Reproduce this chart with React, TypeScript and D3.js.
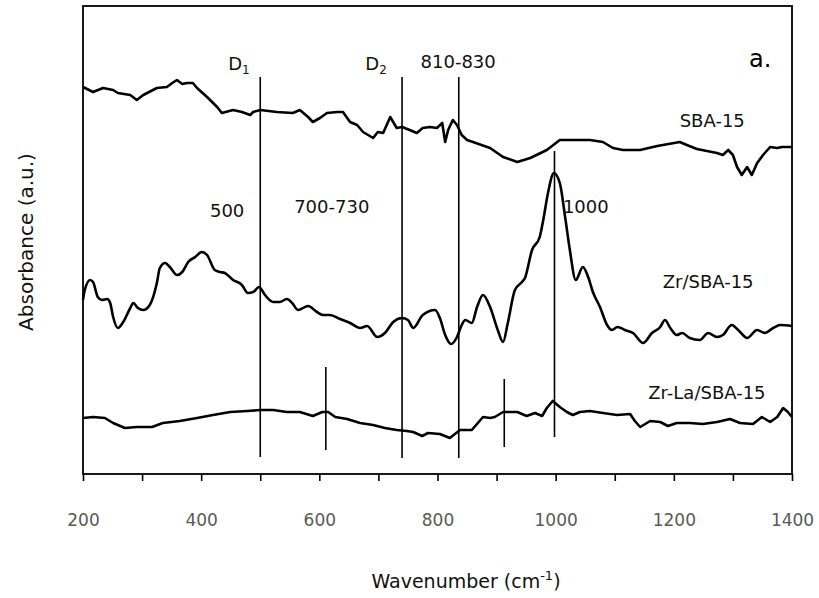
import React, { useRef, useEffect } from "react";
import * as d3 from "d3";

// wavenumber (cm-1), absorbance (a.u., offset stacked as in the figure)
const sbaWave = [200, 217, 234, 251, 259, 280, 291, 302, 325, 342, 351, 359, 368, 376, 386, 393, 410, 427, 435, 454, 469, 483, 488, 500, 528, 555, 567, 581, 589, 601, 613, 630, 640, 652, 664, 674, 691, 699, 708, 720, 731, 740, 753, 765, 775, 787, 799, 808, 813, 818, 826, 833, 841, 850, 860, 889, 911, 935, 957, 985, 1007, 1024, 1058, 1080, 1097, 1114, 1143, 1172, 1210, 1222, 1239, 1273, 1283, 1292, 1300, 1307, 1315, 1324, 1332, 1341, 1351, 1363, 1375, 1383, 1400];
const sbaAbs = [3.87, 3.82, 3.86, 3.84, 3.81, 3.79, 3.74, 3.79, 3.86, 3.87, 3.91, 3.94, 3.9, 3.91, 3.91, 3.86, 3.77, 3.67, 3.61, 3.64, 3.62, 3.59, 3.62, 3.64, 3.62, 3.61, 3.64, 3.57, 3.52, 3.56, 3.61, 3.62, 3.62, 3.52, 3.49, 3.42, 3.36, 3.42, 3.41, 3.57, 3.46, 3.47, 3.44, 3.41, 3.46, 3.47, 3.46, 3.51, 3.32, 3.44, 3.54, 3.49, 3.39, 3.34, 3.32, 3.26, 3.17, 3.12, 3.16, 3.24, 3.34, 3.34, 3.34, 3.32, 3.26, 3.24, 3.24, 3.28, 3.32, 3.29, 3.25, 3.21, 3.19, 3.24, 3.19, 3.07, 2.99, 3.07, 2.99, 3.11, 3.19, 3.27, 3.26, 3.27, 3.27];

const zrWave = [200, 203, 212, 217, 225, 232, 241, 246, 251, 259, 268, 280, 285, 293, 302, 313, 325, 330, 339, 347, 359, 368, 378, 390, 401, 410, 423, 432, 440, 454, 469, 479, 488, 498, 508, 522, 533, 545, 554, 564, 581, 596, 606, 618, 635, 652, 669, 681, 698, 711, 725, 740, 750, 759, 775, 796, 804, 813, 823, 833, 841, 847, 858, 867, 877, 889, 902, 911, 919, 931, 943, 948, 960, 973, 979, 987, 997, 1007, 1016, 1024, 1034, 1046, 1055, 1063, 1075, 1087, 1095, 1105, 1117, 1131, 1148, 1163, 1177, 1185, 1194, 1205, 1214, 1227, 1244, 1258, 1273, 1283, 1298, 1309, 1324, 1341, 1354, 1368, 1380, 1400];
const zrAbs = [1.74, 1.84, 1.94, 1.92, 1.77, 1.74, 1.75, 1.71, 1.57, 1.46, 1.52, 1.66, 1.71, 1.66, 1.64, 1.69, 1.91, 2.06, 2.11, 2.07, 1.99, 2.02, 2.12, 2.17, 2.22, 2.19, 2.04, 2.02, 2.01, 1.94, 1.89, 1.81, 1.82, 1.87, 1.79, 1.72, 1.72, 1.75, 1.71, 1.64, 1.68, 1.62, 1.59, 1.59, 1.55, 1.51, 1.46, 1.48, 1.37, 1.41, 1.52, 1.56, 1.54, 1.46, 1.59, 1.64, 1.56, 1.39, 1.3, 1.37, 1.49, 1.54, 1.51, 1.67, 1.79, 1.67, 1.44, 1.32, 1.51, 1.84, 1.92, 1.96, 2.24, 2.37, 2.54, 2.81, 3.01, 2.91, 2.57, 2.24, 1.94, 2.07, 1.97, 1.82, 1.67, 1.49, 1.44, 1.47, 1.44, 1.41, 1.31, 1.41, 1.47, 1.54, 1.46, 1.39, 1.41, 1.36, 1.34, 1.41, 1.37, 1.39, 1.49, 1.44, 1.36, 1.44, 1.41, 1.46, 1.49, 1.48];

const zrLaWave = [200, 217, 237, 251, 271, 291, 317, 335, 364, 393, 420, 449, 478, 500, 522, 545, 567, 589, 605, 615, 627, 647, 669, 691, 711, 731, 748, 759, 774, 784, 804, 821, 838, 858, 877, 889, 897, 911, 935, 951, 965, 977, 985, 995, 1007, 1019, 1029, 1041, 1058, 1080, 1104, 1126, 1134, 1143, 1160, 1177, 1190, 1205, 1227, 1249, 1273, 1295, 1312, 1334, 1349, 1363, 1375, 1385, 1393, 1400];
const zrLaAbs = [0.56, 0.57, 0.56, 0.51, 0.46, 0.47, 0.47, 0.51, 0.53, 0.56, 0.59, 0.62, 0.63, 0.64, 0.64, 0.62, 0.62, 0.58, 0.62, 0.62, 0.57, 0.55, 0.51, 0.49, 0.46, 0.44, 0.43, 0.42, 0.38, 0.41, 0.4, 0.36, 0.44, 0.44, 0.57, 0.56, 0.57, 0.62, 0.62, 0.58, 0.61, 0.58, 0.66, 0.73, 0.67, 0.62, 0.59, 0.62, 0.63, 0.61, 0.59, 0.6, 0.53, 0.47, 0.53, 0.52, 0.48, 0.51, 0.51, 0.5, 0.52, 0.55, 0.51, 0.5, 0.57, 0.52, 0.57, 0.66, 0.62, 0.57];

// vertical marker lines: wavenumber, from / to (a.u.)
const markerWave = [500, 740, 836, 998, 611, 913];
const markerTop = [3.97, 3.97, 3.97, 3.23, 1.07, 0.95];
const markerBottom = [0.17, 0.16, 0.16, 0.37, 0.24, 0.27];

// annotation texts placed in data units
const noteText = ["810-830", "500", "700-730", "1000", "SBA-15", "Zr/SBA-15", "Zr-La/SBA-15"];
const noteWave = [835, 444, 621, 1051, 1265, 1258, 1256];
const noteAbs = [4.06, 2.57, 2.61, 2.61, 3.47, 1.86, 0.75];

const xTicks = d3.range(200, 1401, 100);

const App = () => {
  const ref = useRef(null);

  useEffect(() => {
    const width = 819;
    const height = 598;
    const margin = { top: 6, right: 27, bottom: 124, left: 83 };
    const font = "'DejaVu Sans', Verdana, sans-serif";

    const svg = d3.select(ref.current);
    svg.selectAll("*").remove();
    svg.attr("width", width).attr("height", height);

    const x = d3.scaleLinear().domain([200, 1400]).range([margin.left, width - margin.right]);
    const y = d3.scaleLinear().domain([0, 4.68]).range([height - margin.bottom, margin.top]);

    // frame
    svg
      .append("rect")
      .attr("x", x(200))
      .attr("y", y(4.68))
      .attr("width", x(1400) - x(200))
      .attr("height", y(0) - y(4.68))
      .attr("fill", "none")
      .attr("stroke", "#000")
      .attr("stroke-width", 1.8);

    // bottom axis
    const axis = svg
      .append("g")
      .attr("transform", `translate(0,${y(0)})`)
      .call(
        d3
          .axisBottom(x)
          .tickValues(xTicks)
          .tickSize(7)
          .tickSizeOuter(0)
          .tickPadding(33)
          .tickFormat((d) => (d % 200 === 0 ? String(d) : ""))
      );
    axis.select(".domain").remove();
    axis.selectAll("line").attr("stroke", "#000").attr("stroke-width", 1.6);
    axis
      .selectAll("text")
      .attr("font-family", font)
      .attr("font-size", 17)
      .attr("fill", "#595959");

    // marker lines
    markerWave.forEach((w, i) => {
      svg
        .append("line")
        .attr("x1", x(w))
        .attr("x2", x(w))
        .attr("y1", y(markerTop[i]))
        .attr("y2", y(markerBottom[i]))
        .attr("stroke", "#000")
        .attr("stroke-width", 1.6);
    });

    // spectra
    const series = [
      { w: sbaWave, a: sbaAbs, curve: d3.curveLinear },
      { w: zrWave, a: zrAbs, curve: d3.curveMonotoneX },
      { w: zrLaWave, a: zrLaAbs, curve: d3.curveLinear },
    ];
    series.forEach((s) => {
      const pts = s.w.map((w, i) => [w, s.a[i]]);
      const line = d3
        .line()
        .x((d) => x(d[0]))
        .y((d) => y(d[1]))
        .curve(s.curve);
      svg
        .append("path")
        .attr("d", line(pts))
        .attr("fill", "none")
        .attr("stroke", "#000")
        .attr("stroke-width", 2.6)
        .attr("stroke-linejoin", "round");
    });

    // annotations
    noteText.forEach((t, i) => {
      svg
        .append("text")
        .attr("x", x(noteWave[i]))
        .attr("y", y(noteAbs[i]))
        .attr("text-anchor", "middle")
        .attr("font-family", font)
        .attr("font-size", 18)
        .attr("fill", "#111")
        .text(t);
    });

    // D1 / D2 with subscripts
    [
      ["1", 464],
      ["2", 696],
    ].forEach(([sub, w]) => {
      const t = svg
        .append("text")
        .attr("x", x(w))
        .attr("y", y(4.04))
        .attr("text-anchor", "middle")
        .attr("font-family", font)
        .attr("font-size", 18)
        .attr("fill", "#111");
      t.append("tspan").text("D");
      t.append("tspan").attr("font-size", 12).attr("dy", 4).text(sub);
    });

    svg
      .append("text")
      .attr("x", x(1346))
      .attr("y", y(4.07))
      .attr("text-anchor", "middle")
      .attr("font-family", font)
      .attr("font-size", 24)
      .attr("fill", "#000")
      .text("a.");

    // axis titles
    const xt = svg
      .append("text")
      .attr("x", 466)
      .attr("y", 588)
      .attr("text-anchor", "middle")
      .attr("font-family", font)
      .attr("font-size", 19)
      .attr("fill", "#111");
    xt.append("tspan").text("Wavenumber (cm");
    xt.append("tspan").attr("font-size", 13).attr("dy", -8).text("-1");
    xt.append("tspan").attr("dy", 8).text(")");

    svg
      .append("text")
      .attr("transform", `translate(33,${(y(0) + y(4.68)) / 2 + 2}) rotate(-90)`)
      .attr("text-anchor", "middle")
      .attr("font-family", font)
      .attr("font-size", 20)
      .attr("fill", "#111")
      .text("Absorbance (a.u.)");
  }, []);

  return (
    <div style={{ position: "absolute", left: 0, top: 0 }}>
      <svg ref={ref}></svg>
    </div>
  );
};

export default App;
